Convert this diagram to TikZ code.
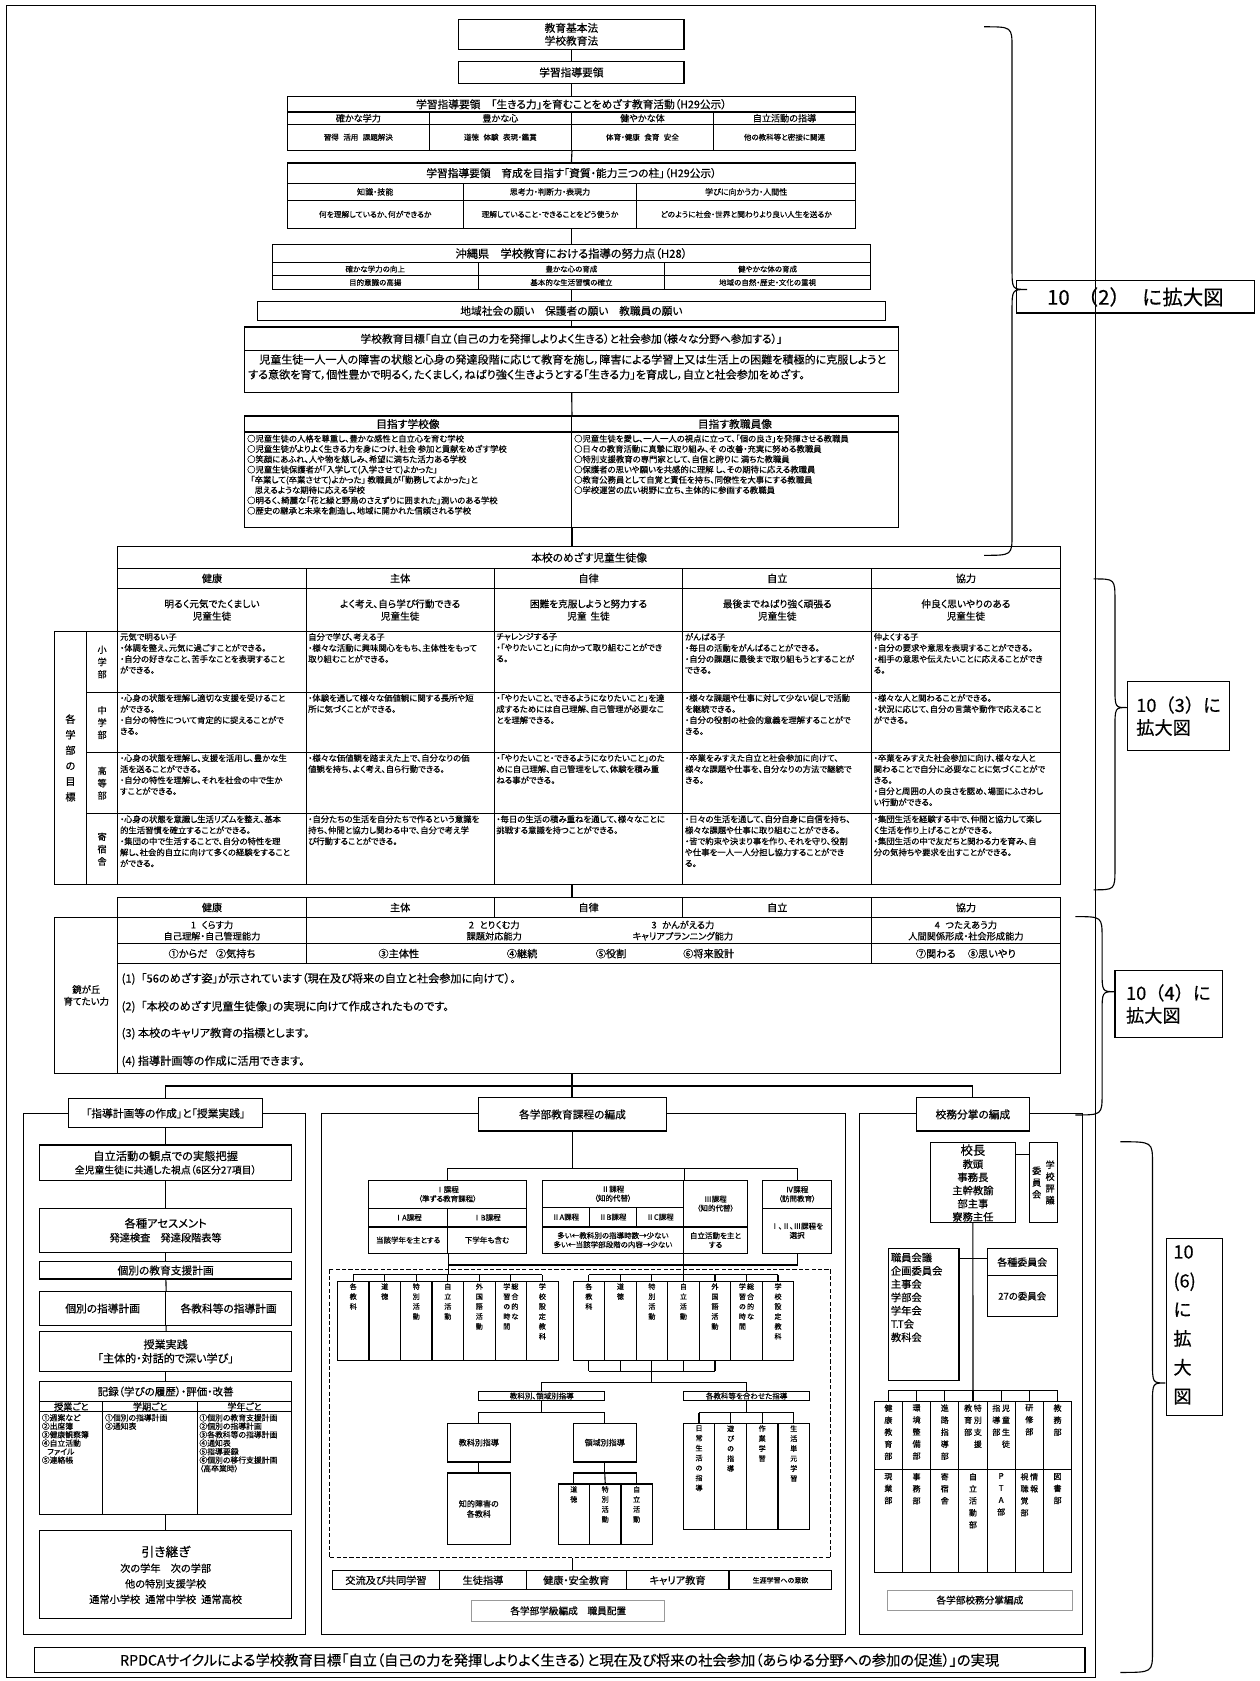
\documentclass[tikz,border=0pt]{standalone}
\usepackage{fontspec}
\setmainfont{Noto Sans CJK JP}[RawFeature=+palt,RawFeature={embolden=0.4}]
\newfontfamily\fullw{Noto Sans CJK JP}[RawFeature={embolden=0.4}]
\newcommand{\fs}[2]{\fontsize{#1}{#2}\selectfont}
% tategaki: one character per line
\newcommand{\tate}[1]{\vtop{\tateA#1\relax}}
\def\tateA#1{\ifx\relax#1\else\hbox to 1em{\hss#1\hss}\expandafter\tateA\fi}
% box with corners (x1,y1) and (x2,y2)
\newcommand{\cellbox}[7][]{\node[box,minimum width={(#5-#3)*1pt},minimum height={(#6-#4)*1pt},#1] (#2) at ({(#3+#5)/2},{(#4+#6)/2}) {#7};}
% brace: x, top, tip, bottom, spine, tip offset
\newcommand{\curly}[6]{\draw (#1,#2) .. controls ({#1+#5},#2) .. ({#1+#5},{#2+20}) -- ({#1+#5},{#3-20}) .. controls ({#1+#5},#3) .. ({#1+#6},#3) .. controls ({#1+#5},#3) .. ({#1+#5},{#3+20}) -- ({#1+#5},{#4-20}) .. controls ({#1+#5},#4) .. (#1,#4);}
\begin{document}
\begin{tikzpicture}[x=1pt,y=-1pt,line width=1.05pt,
  box/.style={draw,inner sep=0.5pt,align=center,font=\fs{8}{10}},
  txt/.style={inner sep=0pt,anchor=north west,align=left,font=\fs{7.8}{10.3}},
  lbl/.style={inner sep=0pt,align=center},
  thin box/.style={draw=black!40,line width=0.5pt},
  vt/.style={inner sep=0pt,anchor=north,font=\fs{6.6}{9.3}}]
\useasboundingbox (0,0) rectangle (1175,1568);
\draw (6,5) rectangle (1022,1565);

% laws and guidelines
\cellbox[font=\fs{10}{12}]{law}{428}{18}{638}{46}{教育基本法\\学校教育法}
\cellbox[font=\fs{10}{12}]{guide}{428}{57}{638}{78}{学習指導要領}
\cellbox[font=\fs{10}{11}]{t1}{268}{90}{798}{104.5}{学習指導要領\hspace{1em}「生きる力」を育むことをめざす教育活動（H29公示）}
\cellbox[font=\fs{8.5}{10}]{t1a}{268}{104.5}{400.5}{116}{確かな学力}
\cellbox[font=\fs{8.5}{10}]{t1b}{400.5}{104.5}{533}{116}{豊かな心}
\cellbox[font=\fs{8.5}{10}]{t1c}{533}{104.5}{665.5}{116}{健やかな体}
\cellbox[font=\fs{8.5}{10}]{t1d}{665.5}{104.5}{798}{116}{自立活動の指導}
\cellbox[font=\fs{7}{8}]{t1e}{268}{116}{400.5}{140}{習得\hspace{.6em}活用\hspace{.6em}課題解決}
\cellbox[font=\fs{7}{8}]{t1f}{400.5}{116}{533}{140}{道徳\hspace{.6em}体験\hspace{.6em}表現・鑑賞}
\cellbox[font=\fs{7}{8}]{t1g}{533}{116}{665.5}{140}{体育・健康\hspace{.6em}食育\hspace{.6em}安全}
\cellbox[font=\fs{7}{8}]{t1h}{665.5}{116}{798}{140}{他の教科等と密接に関連}

\cellbox[font=\fs{10}{11}]{t2}{268}{152}{798}{171}{学習指導要領\hspace{1em}育成を目指す「資質・能力三つの柱」（H29公示）}
\cellbox[font=\fs{7.5}{9}]{t2a}{268}{171}{432}{187}{知識・技能}
\cellbox[font=\fs{7.5}{9}]{t2b}{432}{171}{594}{187}{思考力・判断力・表現力}
\cellbox[font=\fs{7.5}{9}]{t2c}{594}{171}{798}{187}{学びに向かう力・人間性}
\cellbox[font=\fs{7.2}{9}]{t2d}{268}{187}{432}{213}{何を理解しているか、何ができるか}
\cellbox[font=\fs{7.2}{9}]{t2e}{432}{187}{594}{213}{理解していること・できることをどう使うか}
\cellbox[font=\fs{7.2}{9}]{t2f}{594}{187}{798}{213}{どのように社会・世界と関わりより良い人生を送るか}

\cellbox[font=\fs{10.5}{12}]{t3}{254}{228}{812}{245}{沖縄県\hspace{1em}学校教育における指導の努力点（H28）}
\cellbox[font=\fs{7}{8}]{t3a}{254}{245}{446}{257}{確かな学力の向上}
\cellbox[font=\fs{7}{8}]{t3b}{446}{245}{620}{257}{豊かな心の育成}
\cellbox[font=\fs{7}{8}]{t3c}{620}{245}{812}{257}{健やかな体の育成}
\cellbox[font=\fs{7}{8}]{t3d}{254}{257}{446}{270}{目的意識の高揚}
\cellbox[font=\fs{7}{8}]{t3e}{446}{257}{620}{270}{基本的な生活習慣の確立}
\cellbox[font=\fs{7}{8}]{t3f}{620}{257}{812}{270}{地域の自然・歴史・文化の重視}

\cellbox[font=\fs{10}{12}]{wish}{240}{281}{826}{299}{地域社会の願い\hspace{1em}保護者の願い\hspace{1em}教職員の願い}
\cellbox[font=\fs{10}{12}]{goal}{228}{305}{838}{327}{学校教育目標「自立（自己の力を発揮しよりよく生きる）と社会参加（様々な分野へ参加する）」}
\cellbox{goalb}{228}{327}{838}{366}{}
\node[txt,font=\fs{10.3}{14}] (goalt) at (231,330) {　児童生徒一人一人の障害の状態と心身の発達段階に応じて教育を施し，障害による学習上又は生活上の困難を積極的に克服しようと\\する意欲を育て，個性豊かで明るく，たくましく，ねばり強く生きようとする「生きる力」を育成し，自立と社会参加をめざす。};

\cellbox[font=\fs{10}{12}]{sch}{228}{388}{533}{403}{目指す学校像}
\cellbox{schb}{228}{403}{533}{492}{}
\node[txt,font=\fs{7.8}{9.6}] (scht) at (230,405) {○児童生徒の人格を尊重し、豊かな感性と自立心を育む学校\\○児童生徒がよりよく生きる力を身につけ、社会 参加と貢献をめざす学校\\○笑顔にあふれ、人や物を慈しみ、希望に満ちた活力ある学校\\○児童生徒保護者が「入学して(入学させて)よかった」\\\hspace{.4em}「卒業して(卒業させて)よかった」 教職員が「勤務してよかった」と\\\hspace{.9em}思えるような期待に応える学校\\○明るく、綺麗な「花と緑と野鳥のさえずりに囲まれた」潤いのある学校\\○歴史の継承と未来を創造し、地域に開かれた信頼される学校};
\cellbox[font=\fs{10}{12}]{tch}{533}{388}{838}{403}{目指す教職員像}
\cellbox{tchb}{533}{403}{838}{492}{}
\node[txt,font=\fs{7.8}{9.6}] (tcht) at (535,405) {○児童生徒を愛し、一人一人の視点に立って、「個の良さ」を発揮させる教職員\\○日々の教育活動に真摯に取り組み、そ の改善・充実に努める教職員\\○特別支援教育の専門家として、自信と誇りに 満ちた教職員\\○保護者の思いや願いを共感的に理解 し、その期待に応える教職員\\○教育公務員として自覚と責任を持ち、同僚性を大事にする教職員\\○学校運営の広い視野に立ち、主体的に参画する教職員};

\draw (law) -- (guide);
\draw (guide) -- (t1);
\draw (t1f.south east) -- (t2.north);
\draw (t2.north |- t2e.south) -- (t3.north);
\draw (t3.north |- t3e.south) -- (wish);
\draw (wish) -- (goal);
\draw (goalb) -- (sch.north east);

% children the school aims for
\cellbox[font=\fs{10}{12}]{g}{110}{510}{989}{530}{本校のめざす児童生徒像}
\foreach \ci/\xa/\xb/\tx in {1/110/285.5/健康,2/285.5/461/主体,3/461/637/自律,4/637/813/自立,5/813/989/協力}{
  \cellbox[font=\fs{9.5}{11}]{gh\ci}{\xa}{530}{\xb}{549}{\tx}
  \cellbox[font=\fs{9.5}{11}]{hh\ci}{\xa}{837}{\xb}{856}{\tx}
}
\cellbox[font=\fs{9}{11.5}]{gi1}{110}{549}{285.5}{589}{明るく元気でたくましい\\児童生徒}
\cellbox[font=\fs{9}{11.5}]{gi2}{285.5}{549}{461}{589}{よく考え、自ら学び行動できる\\児童生徒}
\cellbox[font=\fs{9}{11.5}]{gi3}{461}{549}{637}{589}{困難を克服しようと努力する\\児童\hspace{.4em}生徒}
\cellbox[font=\fs{9}{11.5}]{gi4}{637}{549}{813}{589}{最後までねばり強く頑張る\\児童生徒}
\cellbox[font=\fs{9}{11.5}]{gi5}{813}{549}{989}{589}{仲良く思いやりのある\\児童生徒}
\foreach \ri/\ya/\yb in {1/589/646,2/646/702,3/702/759,4/759/825}
  \foreach \ci/\xa/\xb in {1/110/285.5,2/285.5/461,3/461/637,4/637/813,5/813/989}
    {\cellbox{c\ri\ci}{\xa}{\ya}{\xb}{\yb}{}}
\cellbox[font=\fs{9.5}{14.5}]{lev}{51}{589}{80.5}{825}{\tate{各学部の目標}}
\cellbox[font=\fs{8.5}{11.5}]{lv1}{80.5}{589}{110}{646}{\tate{小学部}}
\cellbox[font=\fs{8.5}{11.5}]{lv2}{80.5}{646}{110}{702}{\tate{中学部}}
\cellbox[font=\fs{8.5}{11.5}]{lv3}{80.5}{702}{110}{759}{\tate{高等部}}
\cellbox[font=\fs{8.5}{11.5}]{lv4}{80.5}{759}{110}{825}{\tate{寄宿舎}}

\node[txt] (g11) at ([shift={(2,1.5)}]c11.north west) {元気で明るい子\\・体調を整え、元気に過ごすことができる。\\・自分の好きなこと、苦手なことを表現すること\\ができる。};
\node[txt] (g12) at ([shift={(2,1.5)}]c12.north west) {自分で学び、考える子\\・様々な活動に興味関心をもち、主体性をもって\\取り組むことができる。};
\node[txt] (g13) at ([shift={(2,1.5)}]c13.north west) {チャレンジする子\\・「やりたいこと」に向かって取り組むことができ\\る。};
\node[txt] (g14) at ([shift={(2,1.5)}]c14.north west) {がんばる子\\・毎日の活動をがんばることができる。\\・自分の課題に最後まで取り組もうとすることが\\できる。};
\node[txt] (g15) at ([shift={(2,1.5)}]c15.north west) {仲よくする子\\・自分の要求や意思を表現することができる。\\・相手の意思や伝えたいことに応えることができ\\る。};
\node[txt] (g21) at ([shift={(2,1.5)}]c21.north west) {・心身の状態を理解し適切な支援を受けること\\ができる。\\・自分の特性について肯定的に捉えることがで\\きる。};
\node[txt] (g22) at ([shift={(2,1.5)}]c22.north west) {・体験を通して様々な価値観に関する長所や短\\所に気づくことができる。};
\node[txt] (g23) at ([shift={(2,1.5)}]c23.north west) {・「やりたいこと、できるようになりたいこと」を達\\成するためには自己理解、自己管理が必要なこ\\とを理解できる。};
\node[txt] (g24) at ([shift={(2,1.5)}]c24.north west) {・様々な課題や仕事に対して少ない促しで活動\\を継続できる。\\・自分の役割の社会的意義を理解することがで\\きる。};
\node[txt] (g25) at ([shift={(2,1.5)}]c25.north west) {・様々な人と関わることができる。\\・状況に応じて、自分の言葉や動作で応えること\\ができる。};
\node[txt] (g31) at ([shift={(2,1.5)}]c31.north west) {・心身の状態を理解し、支援を活用し、豊かな生\\活を送ることができる。\\・自分の特性を理解し、それを社会の中で生か\\すことができる。};
\node[txt] (g32) at ([shift={(2,1.5)}]c32.north west) {・様々な価値観を踏まえた上で、自分なりの価\\値観を持ち、よく考え、自ら行動できる。};
\node[txt] (g33) at ([shift={(2,1.5)}]c33.north west) {・「やりたいこと・できるようになりたいこと」のた\\めに自己理解、自己管理をして、体験を積み重\\ねる事ができる。};
\node[txt] (g34) at ([shift={(2,1.5)}]c34.north west) {・卒業をみすえた自立と社会参加に向けて、\\様々な課題や仕事を、自分なりの方法で継続で\\きる。};
\node[txt] (g35) at ([shift={(2,1.5)}]c35.north west) {・卒業をみすえた社会参加に向け、様々な人と\\関わることで自分に必要なことに気づくことがで\\きる。\\・自分と周囲の人の良さを認め、場面にふさわし\\い行動ができる。};
\node[txt] (g41) at ([shift={(2,1.5)}]c41.north west) {・心身の状態を意識し生活リズムを整え、基本\\的生活習慣を確立することができる。\\・集団の中で生活することで、自分の特性を理\\解し、社会的自立に向けて多くの経験をすること\\ができる。};
\node[txt] (g42) at ([shift={(2,1.5)}]c42.north west) {・自分たちの生活を自分たちで作るという意識を\\持ち、仲間と協力し関わる中で、自分で考え学\\び行動することができる。};
\node[txt] (g43) at ([shift={(2,1.5)}]c43.north west) {・毎日の生活の積み重ねを通して、様々なことに\\挑戦する意識を持つことができる。};
\node[txt] (g44) at ([shift={(2,1.5)}]c44.north west) {・日々の生活を通して、自分自身に自信を持ち、\\様々な課題や仕事に取り組むことができる。\\・皆で約束や決まり事を作り、それを守り、役割\\や仕事を一人一人分担し協力することができ\\る。};
\node[txt] (g45) at ([shift={(2,1.5)}]c45.north west) {・集団生活を経験する中で、仲間と協力して楽し\\く生活を作り上げることができる。\\・集団生活の中で友だちと関わる力を育み、自\\分の気持ちや要求を出すことができる。};

% abilities to foster
\cellbox[font=\fs{8.6}{10.5}]{h6}{110}{856}{285.5}{880}{1\hspace{.6em}くらす力\\自己理解・自己管理能力}
\cellbox{h7}{285.5}{856}{813}{880}{}
\node[lbl,font=\fs{8.6}{10.5}] (h7a) at (461,868) {2\hspace{.6em}とりくむ力\\課題対応能力};
\node[lbl,font=\fs{8.6}{10.5}] (h7b) at (637,868) {3\hspace{.6em}かんがえる力\\キャリアプランニング能力};
\cellbox[font=\fs{8.6}{10.5}]{h8}{813}{856}{989}{880}{4\hspace{.6em}つたえあう力\\人間関係形成・社会形成能力}
\cellbox[font=\fs{9.5}{11}]{h9}{110}{880}{285.5}{899}{①からだ\hspace{.8em}②気持ち}
\cellbox{h10}{285.5}{880}{813}{899}{}
\node[lbl,font=\fs{9.5}{11}] (h10a) at (372,889.5) {③主体性};
\node[lbl,font=\fs{9.5}{11}] (h10b) at (487,889.5) {④継続};
\node[lbl,font=\fs{9.5}{11}] (h10c) at (570,889.5) {⑤役割};
\node[lbl,font=\fs{9.5}{11}] (h10d) at (661,889.5) {⑥将来設計};
\cellbox[font=\fs{9.5}{11}]{h11}{813}{880}{989}{899}{⑦関わる\hspace{1.2em}⑧思いやり}
\cellbox{h12}{110}{899}{989}{1001}{}
\node[lbl,anchor=west,font=\fs{10.4}{11}] (h12a) at (113,913) {(1)\hspace{.5em}「56のめざす姿」が示されています（現在及び将来の自立と社会参加に向けて）。};
\node[lbl,anchor=west,font=\fs{10.4}{11}] (h12b) at (113,939) {(2)\hspace{.5em}「本校のめざす児童生徒像」の実現に向けて作成されたものです。};
\node[lbl,anchor=west,font=\fs{10.4}{11}] (h12c) at (113,964) {(3) 本校のキャリア教育の指標とします。};
\node[lbl,anchor=west,font=\fs{10.4}{11}] (h12d) at (113,990) {(4) 指導計画等の作成に活用できます。};
\cellbox[font=\fs{8.8}{11}]{hl}{51}{856}{110}{1001}{鏡が丘\\育てたい力}

\draw (schb.south east) -- (schb.south east |- g.north);
\draw (schb.south east |- c43.south) -- (schb.south east |- hh3.north);

% left: planning and lessons
\draw (22,1039) rectangle (285,1525);
\cellbox[fill=white,font=\fs{10}{12}]{lt}{64}{1025}{245}{1052}{「指導計画等の作成」と「授業実践」}
\cellbox[font=\fs{10.5}{12.5}]{l1}{37}{1068}{272}{1101}{自立活動の観点での実態把握\\{\fs{9.2}{11}全児童生徒に共通した視点（6区分27項目）}}
\cellbox[font=\fs{10.5}{13}]{l2}{37}{1127}{272}{1168}{各種アセスメント\\{\fs{9.5}{11}発達検査\hspace{1em}発達段階表等}}
\cellbox[font=\fs{10}{12}]{l3}{37}{1177}{272}{1193}{個別の教育支援計画}
\cellbox[font=\fs{10}{12}]{l4a}{37}{1205}{154.5}{1236}{個別の指導計画}
\cellbox[font=\fs{10}{12}]{l4b}{154.5}{1205}{272}{1236}{各教科等の指導計画}
\cellbox[font=\fs{10.3}{13}]{l5}{37}{1242}{272}{1279}{授業実践\\「主体的・対話的で深い学び」}
\cellbox[font=\fs{9.8}{11}]{l6}{37}{1289}{272}{1307}{記録（学びの履歴）・評価・改善}
\cellbox[font=\fs{8.5}{10}]{l6a}{37}{1307}{96}{1317}{授業ごと}
\cellbox[font=\fs{8.5}{10}]{l6b}{96}{1307}{184}{1317}{学期ごと}
\cellbox[font=\fs{8.5}{10}]{l6c}{184}{1307}{272}{1317}{学年ごと}
\cellbox{l6d}{37}{1317}{96}{1413}{}
\cellbox{l6e}{96}{1317}{184}{1413}{}
\cellbox{l6f}{184}{1317}{272}{1413}{}
\node[txt,font=\fs{7.3}{7.9}] (l6dt) at (38.5,1318.5) {①週案など\\②出席簿\\③健康観察簿\\④自立活動\\\hspace{.7em}ファイル\\⑤連絡帳};
\node[txt,font=\fs{7.3}{7.9}] (l6et) at (97.5,1318.5) {①個別の指導計画\\②通知表};
\node[txt,font=\fs{7.3}{7.9}] (l6ft) at (185.5,1318.5) {①個別の教育支援計画\\②個別の指導計画\\③各教科等の指導計画\\④通知表\\⑤指導要録\\⑥個別の移行支援計画\\（高卒業時）};
\cellbox[font=\fs{9.5}{14.5}]{l7}{37}{1428}{272}{1510}{{\fs{12}{14.5}引き継ぎ}\\次の学年\hspace{1em}次の学部\\他の特別支援学校\\通常小学校\hspace{.5em}通常中学校\hspace{.5em}通常高校}
\draw (lt) -- (l1);
\draw (l1) -- (l2);
\draw (l2) -- (l3);
\draw (l3) -- (l4a.north east);
\draw (l4a.south east) -- (l5);
\draw (l5) -- (l6);
\draw (l6.south |- l6e.south) -- (l7);

% middle: curriculum of each department
\draw (300,1039) rectangle (789,1525);
\cellbox[fill=white,font=\fs{10}{12}]{mt}{446}{1024}{622}{1055}{各学部教育課程の編成}
\coordinate (cj) at (mt.south |- 0,1090);
\cellbox[font=\fs{7}{8.5}]{ca}{344}{1101}{491}{1127}{Ⅰ課程\\（準ずる教育課程）}
\cellbox[font=\fs{7}{8.5}]{caa}{344}{1127}{417.5}{1144.5}{ⅠA課程}
\cellbox[font=\fs{7}{8.5}]{cab}{417.5}{1127}{491}{1144.5}{ⅠB課程}
\cellbox[font=\fs{7}{8.5}]{cac}{344}{1144.5}{417.5}{1169}{当該学年を主とする}
\cellbox[font=\fs{7}{8.5}]{cad}{417.5}{1144.5}{491}{1169}{下学年も含む}
\cellbox[font=\fs{7}{8.5}]{cb}{505.7}{1101}{637.8}{1126}{Ⅱ課程\\（知的代替）}
\cellbox[font=\fs{7}{8.5}]{cba}{505.7}{1126}{549.5}{1144.5}{ⅡA課程}
\cellbox[font=\fs{7}{8.5}]{cbb}{549.5}{1126}{593.6}{1144.5}{ⅡB課程}
\cellbox[font=\fs{7}{8.5}]{cbc}{593.6}{1126}{637.8}{1144.5}{ⅡC課程}
\cellbox[font=\fs{7}{8.5}]{cbd}{505.7}{1144.5}{637.8}{1169}{多い←教科別の指導時数→少ない\\多い←当該学部段階の内容→少ない}
\cellbox[font=\fs{7}{8.5}]{cc}{637.8}{1101}{697}{1144.5}{Ⅲ課程\\（知的代替）}
\cellbox[font=\fs{7}{8.5}]{ccd}{637.8}{1144.5}{697}{1169}{自立活動を主と\\する}
\cellbox[font=\fs{7}{8.5}]{cd}{711}{1101}{776}{1127}{Ⅳ課程\\（訪問教育）}
\cellbox[font=\fs{7}{8.5}]{cdd}{711}{1127}{776}{1169}{Ⅰ、Ⅱ、Ⅲ課程を\\選択}
\draw (mt) -- (cj);
\draw (ca.north) |- (cj) -| (cd.north);
\draw (cj -| cb.north east) -- (cb.north east);
\coordinate (cv) at (cac.south east |- 0,1180);
\draw (cdd.south) |- (cv);
\draw (cac.south east) -- (cac.south east |- 0,1189);
\draw (ccd.south west) -- (ccd.south west |- 0,1189);
\draw[dash pattern=on 4pt off 2pt] (307,1184) rectangle (775,1453);

\foreach \i/\tx in {1/{\tate{各教科}},2/{\tate{道徳}},3/{\tate{特別活動}},4/{\tate{自立活動}},5/{\tate{外国語活動}},6/{\tate{学習の時間}\hspace{1pt}\tate{総合的な}},7/{\tate{学校設定教科}}}{
  \pgfmathsetmacro\xa{314.8+29.4*(\i-1)}
  \pgfmathsetmacro\xb{\xa+29.4}
  \cellbox{la\i}{\xa}{1195}{\xb}{1269}{}
  \node[vt] (lat\i) at ([yshift=-2pt]la\i.north) {\tx};
  \draw (la\i.north) -- (la\i.north |- 0,1189);
  \pgfmathsetmacro\xa{534.6+29.4*(\i-1)}
  \pgfmathsetmacro\xb{\xa+29.4}
  \cellbox{ra\i}{\xa}{1195}{\xb}{1269}{}
  \node[vt] (rat\i) at ([yshift=-2pt]ra\i.north) {\tx};
  \draw (ra\i.north) -- (ra\i.north |- 0,1189);
}
\draw (la1.north |- 0,1189) -- (la7.north |- 0,1189);
\draw (ra1.north |- 0,1189) -- (ra7.north |- 0,1189);

\foreach \i in {1,...,5} \draw (ra\i.south) -- (ra\i.south |- 0,1279);
\draw (ra1.south |- 0,1279) -- (ra5.south |- 0,1279);
\coordinate (rj) at (ra3.south |- 0,1289.4);
\draw (ra3.south |- 0,1279) -- (rj);
\cellbox[font=\fs{7}{8}]{kb}{446.6}{1297.8}{564.1}{1306.5}{教科別、領域別指導}
\cellbox[font=\fs{7}{8}]{kc}{637.8}{1297.8}{755.1}{1306.5}{各教科等を合わせた指導}
\draw (kb.north) |- (rj) -| (kc.north);
\coordinate (kbj) at (kb.south |- 0,1317.6);
\draw (kb.south) -- (kbj);
\cellbox[font=\fs{7.5}{9.5}]{kd}{417.1}{1327.5}{476.2}{1363.7}{教科別指導}
\cellbox[font=\fs{7.5}{9.5}]{kf}{417.1}{1374}{476.2}{1440.8}{知的障害の\\各教科}
\cellbox[font=\fs{7.5}{9.5}]{ke}{534.6}{1327.5}{593.6}{1363.7}{領域別指導}
\draw (kd.north) |- (kbj) -| (ke.north);
\draw (kd) -- (kf);
\coordinate (kej) at (ke.south |- 0,1374);
\draw (ke.south) -- (kej);
\foreach \i/\tx in {1/{\tate{道徳}},2/{\tate{特別活動}},3/{\tate{自立活動}}}{
  \pgfmathsetmacro\xa{520.6+29.3*(\i-1)}
  \pgfmathsetmacro\xb{\xa+29.3}
  \cellbox{m\i}{\xa}{1384.2}{\xb}{1440.8}{}
  \node[vt] (mvt\i) at ([yshift=-2pt]m\i.north) {\tx};
}
\draw (m1.north) |- (kej) -| (m3.north);
\draw (kej) -- (m2.north);
\coordinate (kcj) at (kc.south |- 0,1317.6);
\draw (kc.south) -- (kcj);
\foreach \i/\tx in {1/{\tate{日常生活の指導}},2/{\tate{遊びの指導}},3/{\tate{作業学習}},4/{\tate{生活単元学習}}}{
  \pgfmathsetmacro\xa{637.3+29.45*(\i-1)}
  \pgfmathsetmacro\xb{\xa+29.45}
  \cellbox{n\i}{\xa}{1327.5}{\xb}{1426.8}{}
  \node[vt] (nvt\i) at ([yshift=-2pt]n\i.north) {\tx};
  \draw (n\i.north) -- (n\i.north |- kcj);
}
\draw (n1.north |- kcj) -- (n4.north |- kcj);
\cellbox[font=\fs{9.5}{11}]{p1}{310}{1465}{410}{1483}{交流及び共同学習}
\cellbox[font=\fs{9.5}{11}]{p2}{410}{1465}{491}{1483}{生徒指導}
\cellbox[font=\fs{9.5}{11}]{p3}{491}{1465}{584}{1483}{健康・安全教育}
\cellbox[font=\fs{9.5}{11}]{p4}{584}{1465}{680}{1483}{キャリア教育}
\cellbox[font=\fs{6.5}{8}]{p5}{680}{1465}{776}{1483}{生涯学習への意欲}
\draw (p3.north -| mt.south) -- (mt.south |- 0,1453);
\cellbox[thin box,font=\fs{9}{11}]{pz}{440}{1493}{620}{1512}{各学部学級編成\hspace{1em}職員配置}

% right: school affairs
\draw (802,1039) rectangle (1010,1525);
\cellbox[fill=white,font=\fs{10}{12}]{rt}{855}{1024}{960}{1055}{校務分掌の編成}
\cellbox{head}{868}{1066}{947}{1140}{}
\node[lbl,anchor=north,font=\fs{9.6}{12.3}] (headt) at (907.5,1067) {{\fs{11.5}{12.3}校長}\\教頭\\事務長\\主幹教諭\\部主事\\寮務主任};
\cellbox{hyo}{960}{1066}{986}{1140}{}
\node[lbl,font=\fs{8.5}{11}] (hyoa) at (979.5,1103) {\tate{学校評議}};
\node[lbl,font=\fs{8.5}{11}] (hyob) at (967,1103) {\tate{委員会}};
\draw ([yshift=-11pt]head.north east) -- ([yshift=-11pt]hyo.north west);
\cellbox{staff}{828.6}{1164.5}{894.5}{1288}{}
\node[txt,font=\fs{9.6}{12.4}] (stafft) at (830.5,1168) {職員会議\\企画委員会\\主事会\\学部会\\学年会\\T.T会\\教科会};
\cellbox[font=\fs{9.3}{11}]{com}{921}{1164.5}{986}{1190}{各種委員会}
\cellbox[font=\fs{8.8}{11}]{comb}{921}{1190}{986}{1228}{27の委員会}
\draw ([yshift=-10pt]staff.north east) -- ([yshift=-10pt]com.north west);
\foreach \i/\tx/\ux in {1/{\tate{健康教育部}}/{\tate{現業部}},2/{\tate{環境整備部}}/{\tate{事務部}},3/{\tate{進路指導部}}/{\tate{寄宿舎}},4/{\tate{教育部}\hspace{1.5pt}\tate{特別支援}}/{\tate{自立活動部}},5/{\tate{指導部}\hspace{1.5pt}\tate{児童生徒}}/{\tate{PTA部}},6/{\tate{研修部}}/{\tate{視聴覚部}\hspace{1.5pt}\tate{情報}},7/{\tate{教務部}}/{\tate{図書部}}}{
  \pgfmathsetmacro\xa{815.5+26.3*(\i-1)}
  \pgfmathsetmacro\xb{\xa+26.3}
  \cellbox{d\i}{\xa}{1307}{\xb}{1371}{}
  \cellbox{e\i}{\xa}{1371}{\xb}{1467}{}
  \node[vt,font=\fs{7.5}{11.2}] (dt\i) at ([yshift=-3pt]d\i.north) {\tx};
  \node[vt,font=\fs{7.5}{11.2}] (et\i) at ([yshift=-3pt]e\i.north) {\ux};
  \draw (d\i.north) -- (d\i.north |- 0,1297);
}
\draw (head.south) -- (d4.north |- 0,1297);
\draw (d1.north |- 0,1297) -- (d7.north |- 0,1297);
\cellbox[thin box,font=\fs{9}{11}]{rz}{828}{1483}{1000}{1502}{各学部校務分掌編成}

% distribution to the three panels
\coordinate (hub) at (schb.south east |- 0,1013);
\draw (schb.south east |- h12.south) -- (hub);
\draw (lt.north) |- (hub) -| (rt.north);
\draw (hub) -- (hub |- mt.north);

\cellbox[font=\fs{13.3}{15}]{rp}{32}{1537}{1012}{1560}{RPDCAサイクルによる学校教育目標「自立（自己の力を発揮しよりよく生きる）と現在及び将来の社会参加（あらゆる分野への参加の促進）」の実現}

% pointers to the enlarged figures
\cellbox[font=\fullw\fs{19}{21}]{a2}{948}{262}{1170}{292}{10\hspace{.4em}（2）\hspace{.6em}に拡大図}
\cellbox[font=\fullw\fs{17}{21},align=left]{a3}{1052}{636}{1147}{700}{10（3）に\\拡大図}
\cellbox[font=\fullw\fs{17}{21},align=left]{a4}{1040}{905}{1140}{968}{10（4）に\\拡大図}
\cellbox{a6}{1088}{1155}{1140}{1320}{}
\node[txt,font=\fullw\fs{17}{27}] (a6t) at (1094,1161) {10\\(6)\\に\\拡\\大\\図};
\curly{918}{25}{270}{518}{26}{40}
\curly{1020}{540}{660}{830}{20}{31}
\curly{1003}{855}{925}{1040}{25}{37}
\curly{1045}{1065}{1290}{1560}{30}{42}
\end{tikzpicture}
\end{document}
